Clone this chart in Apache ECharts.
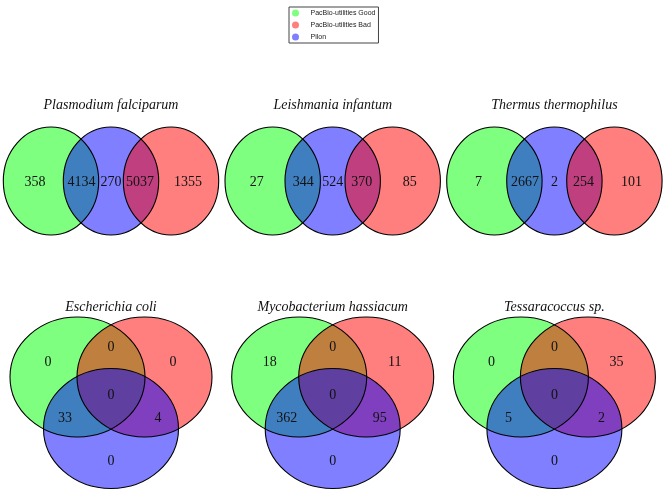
<!DOCTYPE html>
<html><head><meta charset="utf-8">
<script src="https://cdn.jsdelivr.net/npm/echarts@6/dist/echarts.min.js"></script>
<style>html,body{margin:0;padding:0;background:#fff}#chart{width:666px;height:500px}</style>
</head><body><div id="chart"></div>
<script>
// ---- data ----
const setNames = ['PacBio-utilities Good', 'PacBio-utilities Bad', 'Pilon'];
const species = ['Plasmodium falciparum', 'Leishmania infantum', 'Thermus thermophilus',
                 'Escherichia coli', 'Mycobacterium hassiacum', 'Tessaracoccus sp.'];
// chain Venn regions: Good only, Good∩Pilon, Pilon only, Pilon∩Bad, Bad only
const chainRegions = ['Good only', 'Good & Pilon', 'Pilon only', 'Pilon & Bad', 'Bad only'];
const plasmodium = [358, 4134, 270, 5037, 1355];
const leishmania = [27, 344, 524, 370, 85];
const thermus = [7, 2667, 2, 254, 101];
// triple Venn regions: Good only, Good∩Bad, Bad only, all three, Good∩Pilon, Bad∩Pilon, Pilon only
const tripleRegions = ['Good only', 'Good & Bad', 'Bad only', 'All three', 'Good & Pilon', 'Bad & Pilon', 'Pilon only'];
const escherichia = [0, 0, 0, 0, 33, 4, 0];
const mycobacterium = [18, 0, 11, 0, 362, 95, 0];
const tessaracoccus = [0, 0, 35, 0, 5, 2, 0];

// ---- styles & layout (template geometry, in panel units) ----
const setColors = ['rgba(0,255,0,0.5)', 'rgba(255,0,0,0.5)', 'rgba(0,0,255,0.5)'];
const CHAIN = {
  gridTop: 90, gridHeight: 150, titleY: 15,
  ellipses: [[51, 91, 47.7, 54], [171, 91, 47.7, 54], [111, 91, 47.7, 54]], // by set index
  order: [0, 2, 1],
  labelPos: [[35, 92], [81.5, 92], [111, 92], [140, 92], [188, 92]]
};
const TRIPLE = {
  gridTop: 270, gridHeight: 230, titleY: 37,
  ellipses: [[77.5, 107, 67.5, 60], [144.5, 107, 67.5, 60], [111, 158.5, 67.5, 60]],
  order: [0, 1, 2],
  labelPos: [[48, 92], [111, 77], [173, 92], [111, 125], [65, 148], [158, 148], [111, 191]]
};
const panels = [
  {counts: plasmodium, layout: CHAIN, col: 0},
  {counts: leishmania, layout: CHAIN, col: 1},
  {counts: thermus, layout: CHAIN, col: 2},
  {counts: escherichia, layout: TRIPLE, col: 0},
  {counts: mycobacterium, layout: TRIPLE, col: 1},
  {counts: tessaracoccus, layout: TRIPLE, col: 2}
];
const PANEL_W = 222, PANEL_STEP = 221.7;
const numFont = '14px "Liberation Serif", "DejaVu Serif", serif';
const titleFont = 'italic 14px "Liberation Serif", "DejaVu Serif", serif';

function fillItem(params, api) {
  const c = api.coord([api.value(0), api.value(1)]);
  const s = api.size([api.value(2), api.value(3)]);
  return {type: 'ellipse', shape: {cx: c[0], cy: c[1], rx: Math.abs(s[0]), ry: Math.abs(s[1])},
          style: {fill: api.visual('color'), stroke: null}};
}
function outlineItem(params, api) {
  const c = api.coord([api.value(0), api.value(1)]);
  const s = api.size([api.value(2), api.value(3)]);
  return {type: 'ellipse', shape: {cx: c[0], cy: c[1], rx: Math.abs(s[0]), ry: Math.abs(s[1])},
          style: {fill: null, stroke: '#000', lineWidth: 1.1}};
}
function labelItem(params, api) {
  const c = api.coord([api.value(0), api.value(1)]);
  return {type: 'text', x: c[0], y: c[1],
          style: {text: String(api.value(2)), font: numFont, fill: '#111',
                  align: 'center', verticalAlign: 'middle', textAlign: 'center', textVerticalAlign: 'middle'}};
}

const grid = [], xAxis = [], yAxis = [], series = [], graphic = [];
panels.forEach((p, i) => {
  const L = p.layout;
  const left = p.col * PANEL_STEP;
  grid.push({left: left, top: L.gridTop, width: PANEL_W, height: L.gridHeight, containLabel: false});
  xAxis.push({type: 'value', gridIndex: i, min: 0, max: PANEL_W, show: false});
  yAxis.push({type: 'value', gridIndex: i, min: 0, max: L.gridHeight, inverse: true, show: false});
  L.order.forEach((k, n) => {
    series.push({type: 'custom', name: setNames[k], xAxisIndex: i, yAxisIndex: i, z: 2 + n,
      itemStyle: {color: setColors[k]}, renderItem: fillItem, data: [L.ellipses[k]], silent: true});
  });
  series.push({type: 'custom', name: species[i] + ' outline', xAxisIndex: i, yAxisIndex: i, z: 8,
    renderItem: outlineItem, data: L.order.map(k => L.ellipses[k]), silent: true});
  series.push({type: 'custom', name: species[i], xAxisIndex: i, yAxisIndex: i, z: 9,
    renderItem: labelItem, data: p.counts.map((v, j) => [L.labelPos[j][0], L.labelPos[j][1], v])});
  graphic.push({type: 'text', x: left + PANEL_W / 2, y: L.gridTop + L.titleY,
    style: {text: species[i], font: titleFont, fill: '#111', align: 'center', verticalAlign: 'middle',
            textAlign: 'center', textVerticalAlign: 'middle'}});
});

const chart = echarts.init(document.getElementById('chart'), null, {renderer: 'canvas'});
chart.setOption({
  animation: false,
  backgroundColor: '#fff',
  grid, xAxis, yAxis, series, graphic,
  legend: {
    data: setNames, left: 289, top: 7, orient: 'vertical', icon: 'circle',
    itemWidth: 10, itemHeight: 7, itemGap: 5, padding: [2.5, 3, 2.5, 3],
    borderColor: '#444', borderWidth: 1,
    textStyle: {fontSize: 7, lineHeight: 7, fontFamily: '"Liberation Sans", Arial, sans-serif', color: '#222', padding: [0, 0, 0, 5]}
  }
});
</script></body></html>
